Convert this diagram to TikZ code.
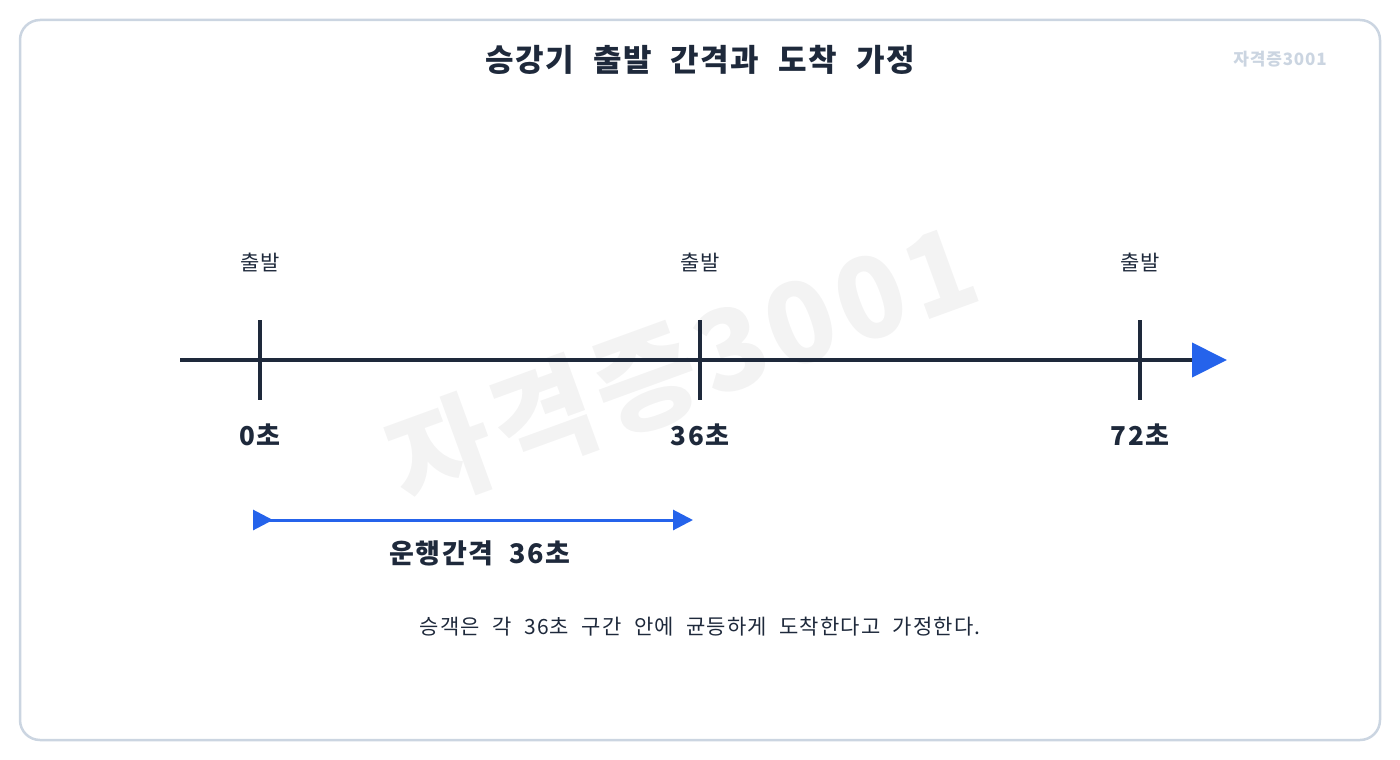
\documentclass[tikz,border=0pt]{standalone}
\usepackage{fontspec}
\setmainfont{Noto Sans CJK KR}[LetterSpace=5, WordSpace=2.2]
\usepackage{xcolor}
\usetikzlibrary{arrows.meta}
\definecolor{ink}{HTML}{1E293B}
\definecolor{accent}{HTML}{2563EB}
\definecolor{framecol}{HTML}{CBD5E1}
\definecolor{markcol}{HTML}{F3F3F3}
\tikzset{
  titletext/.style={text=ink, inner sep=0pt, font=\bfseries\fontsize{31}{37}\selectfont},
  deptext/.style={text=ink, inner sep=0pt, font=\fontsize{21}{25}\selectfont},
  timetext/.style={text=ink, inner sep=0pt, font=\bfseries\fontsize{26}{31}\selectfont},
  notetext/.style={text=ink, inner sep=0pt, font=\fontsize{21}{25}\selectfont},
  tickline/.style={ink, line width=4pt},
}

\begin{document}
\begin{tikzpicture}[x=1pt,y=-1pt]
            \useasboundingbox (0,0) rectangle (1400,760);
            \draw [framecol, line width=2.5pt, rounded corners=20pt] (20,20) rectangle (1380,740);
            % watermark
            \node [text=markcol, rotate=20, font=\bfseries\fontsize{112}{128}\selectfont] (bigmark) at (682,365) {자격증3001};
            \node [text=framecol, inner sep=0pt, font=\bfseries\fontsize{17}{20}\selectfont] (smallmark) at (1280,59) {자격증3001};
            \node [titletext] (title) at (700,60) {승강기 출발 간격과 도착 가정};
            % time axis
            \coordinate (axisstart) at (180,360);
            \coordinate (axisend) at (1227,360);
            \coordinate (t0) at (260,360);
            \coordinate (t1) at (700,360);
            \coordinate (t2) at (1140,360);
            \draw [ink, line width=4pt, -{Triangle[length=35pt,width=34pt,color=accent,fill=accent]}] (axisstart) -- (axisend);
            \draw [tickline] ([yshift=40pt]t0) -- ([yshift=-40pt]t0);
            \draw [tickline] ([yshift=40pt]t1) -- ([yshift=-40pt]t1);
            \draw [tickline] ([yshift=40pt]t2) -- ([yshift=-40pt]t2);
            \node [deptext] (dep0) at (260,262) {출발};
            \node [deptext] (dep1) at (700,262) {출발};
            \node [deptext] (dep2) at (1140,262) {출발};
            \node [timetext] (time0) at (260,435) {0초};
            \node [timetext] (time1) at (700,435) {36초};
            \node [timetext] (time2) at (1140,435) {72초};
            % headway
            \coordinate (spanstart) at (253,520);
            \coordinate (spanend) at (693,520);
            \draw [accent, line width=3pt, {Triangle[reversed,length=20pt,width=20pt]}-{Triangle[length=20pt,width=20pt]}] (spanstart) -- (spanend);
            \node [timetext, font=\bfseries\fontsize{27}{32}\selectfont] (spanlabel) at (480,553) {운행간격 36초};
            \node [notetext] (note) at (700,627) {승객은 각 36초 구간 안에 균등하게 도착한다고 가정한다.};
        \end{tikzpicture}
\end{document}
